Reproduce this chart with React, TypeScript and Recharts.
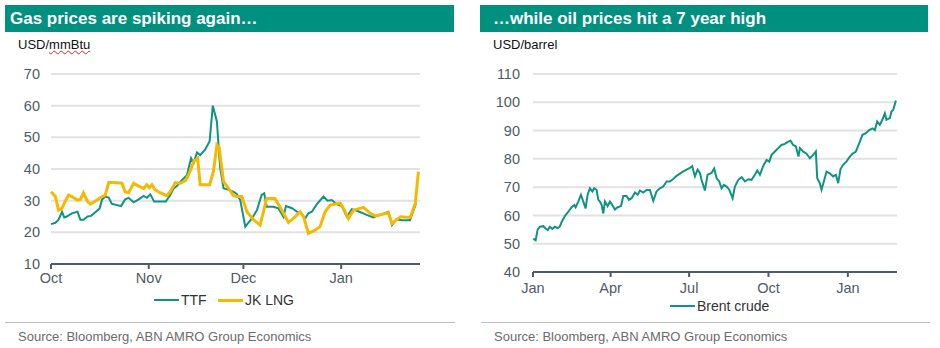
import { LineChart, Line, XAxis, YAxis, CartesianGrid } from 'recharts'

// gas chart: days since 1 Oct
const GAS_TICK_DAYS = [0, 31, 61, 92]
const GAS_TICK_LABELS = ['Oct', 'Nov', 'Dec', 'Jan']
const GAS_Y_TICKS = [10, 20, 30, 40, 50, 60, 70]

const TTF_DAYS = [0, 1.4, 2.4, 3.5, 4.2, 5, 6.6, 8.4, 9.3, 10.3, 11.6, 12.7, 14.6, 15.4, 16.2, 17.2, 18.3, 19.3, 20.9, 22.2, 23.5, 24.6, 26.2, 27.8, 29.4, 30.4, 31.5, 32.7, 34.6, 36.4, 37.8, 38.9, 39.9, 41.5, 43.1, 44.4, 45.2, 46.3, 47.3, 48.9, 50.3, 51.3, 52.6, 53.6, 54.7, 56.3, 57.9, 58.9, 60, 61.6, 63.7, 65.3, 66.8, 67.6, 68.4, 70.5, 72.1, 73.7, 74.5, 76.4, 78, 79.5, 80.6, 81.6, 82.7, 84.3, 86.4, 87.7, 89, 90.6, 92.2, 93.8, 95.4, 97, 98.5, 100.1, 102.2, 104.3, 107, 108.1, 109.5, 111.2, 113.8, 115.7]
const TTF_VALUES = [22.6, 23, 24, 26.5, 24.7, 25, 26, 26.5, 24, 24, 25, 25.2, 26.8, 27.5, 30.4, 31.3, 31, 29, 28.6, 28.3, 30.4, 30.9, 29.5, 30.4, 31.5, 30.9, 32, 29.7, 29.7, 29.7, 31.8, 33.9, 34.6, 36.5, 38, 43.4, 41.8, 45.2, 44.4, 46.2, 48.8, 60, 55, 40.7, 33.9, 33.4, 32.8, 32.1, 30.2, 21.8, 24.4, 27, 31.8, 32.3, 28.1, 28.1, 27.6, 24.9, 28.3, 27.6, 26.5, 25.8, 24.4, 26, 26.5, 28.9, 31.3, 30, 30.2, 28.9, 28.3, 24.9, 27.3, 26.8, 26.2, 25.5, 24.7, 25.5, 26.5, 22.3, 24.1, 23.8, 23.8, 29]

const LNG_DAYS = [0, 1.4, 2.4, 3.5, 4.2, 5.6, 6.6, 8.4, 9.3, 10.3, 11.6, 12.5, 14.6, 15.6, 17.2, 18.3, 19.9, 22.5, 23.5, 24.6, 26.2, 27.8, 29.4, 30.4, 31.2, 32, 33, 34.6, 36.7, 37.8, 39.4, 41, 42.6, 43.6, 45.2, 46.5, 47.3, 50.3, 51.5, 52.6, 53.3, 54.7, 56.3, 57.9, 58.9, 60.5, 62.1, 64.3, 66.3, 68.4, 71, 73.2, 75.3, 77.4, 79, 80.1, 81.6, 83.7, 85.3, 86.9, 88.5, 91.7, 92.7, 94.3, 95.9, 99.1, 101.2, 102.8, 105.5, 107, 108.1, 109.7, 110.8, 113.9, 115.5, 116.5]
const LNG_VALUES = [32.8, 31.3, 27, 27.6, 29.2, 31.8, 31.3, 30.2, 30.4, 32.5, 29.7, 28.9, 30.2, 30.9, 31.8, 35.7, 35.7, 35.5, 32.8, 32.5, 35.5, 34.6, 33.9, 35, 34.1, 35, 33.4, 32.5, 31.6, 32.8, 35.7, 35.5, 36.3, 38.1, 42.3, 43.4, 35, 35, 39.2, 47.6, 46.8, 36, 33.9, 31.6, 31.3, 31.3, 26.5, 23.9, 22.3, 30.7, 30.7, 27, 23.1, 24.9, 26.5, 24.9, 19.7, 20.7, 21.8, 26.5, 28.6, 29.2, 27.6, 24.4, 27, 27.9, 26, 25.2, 25.8, 26.2, 22.8, 24.1, 24.9, 24.7, 29.2, 39.2]

// oil chart: days since 1 Jan 2021
const OIL_TICK_DAYS = [0, 90, 181, 273, 365]
const OIL_TICK_LABELS = ['Jan', 'Apr', 'Jul', 'Oct', 'Jan']
const OIL_Y_TICKS = [40, 50, 60, 70, 80, 90, 100, 110]

const BRENT_DAYS = [0.4, 3, 5.4, 8, 12, 14.7, 17, 19.7, 22.4, 25.5, 28.6, 31.3, 33.2, 37, 41, 44.8, 47.9, 49.4, 52.5, 55.6, 58.3, 61, 63.3, 66, 68.8, 71, 73.8, 75.7, 77.6, 79.6, 81.5, 83.4, 86.5, 89.2, 91.9, 95, 98.1, 102, 104.7, 108.5, 111.2, 114.3, 118.2, 121.3, 124, 127.8, 131.7, 135.6, 139.4, 143.3, 147.2, 151, 154.9, 158.7, 162.6, 166.5, 170.3, 174.2, 178.1, 181.9, 184.6, 187.7, 190.8, 193.5, 195.4, 199.3, 202.4, 207, 210, 212.8, 215.9, 218.6, 221.3, 224.4, 227.5, 231.4, 234.1, 238, 241.9, 245.7, 249.6, 253.4, 257.2, 260, 263.1, 266.9, 270.8, 273.9, 276.6, 280.4, 284.3, 288.1, 292, 295.9, 298.6, 301.6, 304.7, 307.8, 309.4, 313.2, 317.1, 321, 324.8, 327.9, 329.5, 332.5, 334.5, 337.2, 340.3, 344.1, 348, 351.1, 353.8, 356.5, 359.6, 363.5, 367.3, 370.4, 374.3, 378.1, 382, 385.9, 389.7, 393.6, 396.3, 399, 402.1, 405.2, 407.9, 409.8, 413.7, 415.6, 417.6, 420.7]
const BRENT_VALUES = [51.8, 51.2, 55, 56, 56.2, 55.4, 54.8, 56, 55.2, 56, 55.5, 56.2, 57.7, 59.8, 61.3, 62.9, 63.7, 62.9, 64.9, 67.3, 64.9, 62.5, 67.3, 69.6, 68.5, 69.6, 69, 65.5, 64.9, 63.7, 60.7, 64.9, 63.3, 64.9, 63.7, 62.1, 62.9, 63.3, 66.9, 66.9, 65.5, 66.1, 68.1, 67.3, 68.8, 68.1, 69, 69, 65.2, 68.5, 69.6, 70.2, 72, 72, 72.9, 74, 74.8, 75.6, 76.2, 76.8, 77.4, 73.8, 76.2, 75, 72.6, 68.8, 74.4, 75, 76.6, 73.2, 72, 69.6, 70.8, 70.2, 69.1, 66.1, 70.2, 72.6, 73.5, 72, 72.8, 72.6, 74.4, 75.9, 74.4, 77.5, 79.6, 79, 81.4, 82.6, 83.8, 84.9, 85.3, 86.1, 86.4, 84.9, 84.4, 80.8, 83.8, 82.6, 81.8, 80.2, 81.4, 82.6, 73.2, 71.4, 69.1, 72, 75.5, 74.9, 73.8, 74.4, 71.4, 76.4, 77.9, 79.1, 80.8, 81.8, 82.6, 85.5, 88.5, 89.1, 90.2, 90.8, 90.2, 93.2, 92, 94, 96.1, 93.8, 94.4, 96.7, 97.3, 100.6]

const TEAL = '#0f9482'
const YELLOW = '#f6b800'
const HEADER = '#00907f'
const AXIS = '#4f5b66'
const FONT = '"Liberation Sans", Arial, sans-serif'

// merge both gas series onto one sorted day column
const gasMap = new Map<number, { d: number; ttf?: number; lng?: number }>()
TTF_DAYS.forEach((d, i) => gasMap.set(d, { ...(gasMap.get(d) || { d }), ttf: TTF_VALUES[i] }))
LNG_DAYS.forEach((d, i) => gasMap.set(d, { ...(gasMap.get(d) || { d }), lng: LNG_VALUES[i] }))
const gasData = [...gasMap.values()].sort((a, b) => a.d - b.d)
const oilData = BRENT_DAYS.map((d, i) => ({ d, brent: BRENT_VALUES[i] }))

const tickStyle = { fill: AXIS, fontSize: 14.5, fontFamily: FONT }

function Header({ left, width, title }: { left: number; width: number; title: string }) {
  return (
    <div style={{
      position: 'absolute', left, top: 5, width, height: 27, background: HEADER, color: '#fff',
      fontFamily: FONT, fontWeight: 700, fontSize: 17, lineHeight: '28px', boxSizing: 'border-box', paddingLeft: left < 100 ? 5 : 13,
    }}>{title}</div>
  )
}

function Source({ left, width }: { left: number; width: number }) {
  return (
    <>
      <div style={{ position: 'absolute', left, top: 322, width, height: 1, background: '#bdbdbd' }} />
      <div style={{ position: 'absolute', left: left + 13, top: 329, fontFamily: FONT, fontSize: 13, color: '#6b6b6b' }}>
        Source: Bloomberg, ABN AMRO Group Economics
      </div>
    </>
  )
}

function LegendItem({ left, top, color, width, label }: { left: number; top: number; color: string; width: number; label: string }) {
  return (
    <div style={{ position: 'absolute', left, top, display: 'flex', alignItems: 'center', fontFamily: FONT, fontSize: 14, color: '#333' }}>
      <span style={{ display: 'inline-block', width: 25, height: width, background: color, marginRight: 2 }} />
      {label}
    </div>
  )
}

export default function App() {
  return (
    <div style={{ position: 'absolute', left: 0, top: 0, width: 940, height: 348, background: '#fff', overflow: 'hidden' }}>
      <Header left={5} width={449} title="Gas prices are spiking again…" />
      <Header left={480} width={448} title="…while oil prices hit a 7 year high" />

      <div style={{ position: 'absolute', left: 18, top: 37, fontFamily: FONT, fontSize: 13, color: '#111' }}>
        USD/<span style={{ textDecoration: 'underline wavy #e02020', textDecorationThickness: 1 }}>mmBtu</span>
      </div>
      <div style={{ position: 'absolute', left: 493, top: 37, fontFamily: FONT, fontSize: 13, color: '#111' }}>USD/barrel</div>

      <div style={{ position: 'absolute', left: 0, top: 0 }}>
        <LineChart width={470} height={320} data={gasData} margin={{ top: 74, right: 50, bottom: 26, left: 0 }}>
          <CartesianGrid vertical={false} stroke="#e2e2e2" strokeWidth={2} />
          <XAxis
            dataKey="d" type="number" domain={[0, 117]} ticks={GAS_TICK_DAYS} height={30}
            tickFormatter={(v: number) => GAS_TICK_LABELS[GAS_TICK_DAYS.indexOf(v)]}
            tick={tickStyle} axisLine={{ stroke: AXIS, strokeWidth: 2 }} tickLine={{ stroke: AXIS, strokeWidth: 2 }}
            tickSize={5} tickMargin={4} interval={0}
          />
          <YAxis
            type="number" domain={[10, 70]} ticks={GAS_Y_TICKS} width={51} interval={0}
            tick={tickStyle} axisLine={false} tickLine={false} tickMargin={5}
          />
          <Line dataKey="ttf" stroke={TEAL} strokeWidth={2} dot={false} connectNulls isAnimationActive={false} />
          <Line dataKey="lng" stroke={YELLOW} strokeWidth={3} dot={false} connectNulls isAnimationActive={false} />
        </LineChart>
      </div>

      <div style={{ position: 'absolute', left: 470, top: 0 }}>
        <LineChart width={470} height={320} data={oilData} margin={{ top: 74, right: 43, bottom: 18, left: 0 }}>
          <CartesianGrid vertical={false} stroke="#e2e2e2" strokeWidth={2} />
          <XAxis
            dataKey="d" type="number" domain={[0, 422]} ticks={OIL_TICK_DAYS} height={30}
            tickFormatter={(v: number) => OIL_TICK_LABELS[OIL_TICK_DAYS.indexOf(v)]}
            tick={tickStyle} axisLine={{ stroke: AXIS, strokeWidth: 2 }} tickLine={{ stroke: AXIS, strokeWidth: 2 }}
            tickSize={5} tickMargin={6} interval={0}
          />
          <YAxis
            type="number" domain={[40, 110]} ticks={OIL_Y_TICKS} width={63} interval={0}
            tick={tickStyle} axisLine={false} tickLine={false} tickMargin={7}
          />
          <Line dataKey="brent" stroke={TEAL} strokeWidth={2} dot={false} isAnimationActive={false} />
        </LineChart>
      </div>

      <LegendItem left={154} top={292} color={TEAL} width={2} label="TTF" />
      <LegendItem left={218} top={292} color={YELLOW} width={3} label="JK LNG" />
      <LegendItem left={670} top={298} color={TEAL} width={2} label="Brent crude" />

      <Source left={5} width={450} />
      <Source left={481} width={449} />
    </div>
  )
}
